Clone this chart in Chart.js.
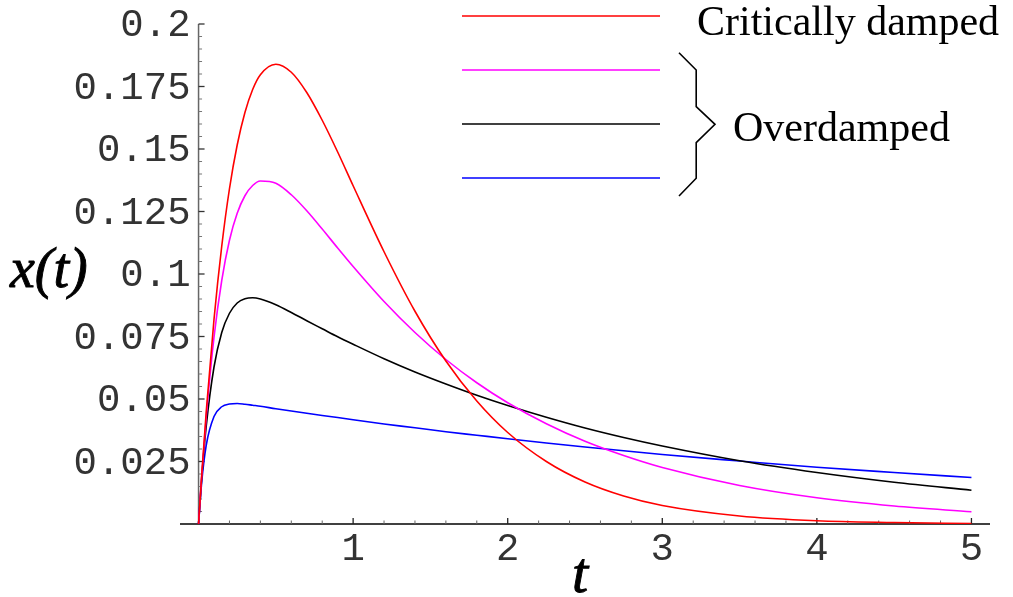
<!DOCTYPE html>
<html><head><meta charset="utf-8">
<script src="https://cdn.jsdelivr.net/npm/chart.js@4.4.1/dist/chart.umd.min.js"></script>
<style>html,body{margin:0;padding:0;background:#fff;overflow:hidden}#wrap{width:1013px;height:597px;position:relative}canvas{display:block}</style>
</head><body><div id="wrap"><canvas id="c" width="1013" height="597"></canvas></div>
<script>
// ---- data ----
const tValues = [0, 0.02, 0.05, 0.1, 0.15, 0.2, 0.25, 0.3, 0.35, 0.4, 0.5, 0.6, 0.7, 0.8, 0.9, 1.0, 1.2, 1.4, 1.6, 1.8, 2.0, 2.25, 2.5, 2.75, 3.0, 3.5, 4.0, 4.5, 5.0];
const criticallyDamped = [0, 0.0192, 0.0452, 0.0819, 0.1111, 0.1341, 0.1516, 0.1646, 0.1738, 0.1797, 0.1839, 0.1807, 0.1726, 0.1615, 0.1488, 0.1353, 0.1089, 0.0851, 0.0652, 0.0492, 0.0366, 0.0250, 0.0168, 0.0112, 0.0074, 0.0032, 0.0013, 0.0006, 0.0002];
const overdampedMagenta = [0, 0.0188, 0.0431, 0.0747, 0.0974, 0.1135, 0.1243, 0.1313, 0.1354, 0.1372, 0.1363, 0.1317, 0.1253, 0.1180, 0.1104, 0.1030, 0.0890, 0.0766, 0.0658, 0.0565, 0.0485, 0.0401, 0.0331, 0.0274, 0.0226, 0.0154, 0.0105, 0.0072, 0.0049];
const overdampedBlack = [0, 0.0181, 0.0393, 0.0628, 0.0766, 0.0843, 0.0884, 0.0901, 0.0905, 0.0900, 0.0877, 0.0846, 0.0813, 0.0781, 0.0749, 0.0719, 0.0661, 0.0608, 0.0560, 0.0515, 0.0474, 0.0427, 0.0384, 0.0346, 0.0312, 0.0253, 0.0206, 0.0167, 0.0135];
const overdampedBlue = [0, 0.0165, 0.0316, 0.0430, 0.0469, 0.0480, 0.0482, 0.0479, 0.0475, 0.0471, 0.0461, 0.0452, 0.0443, 0.0434, 0.0426, 0.0417, 0.0400, 0.0385, 0.0369, 0.0355, 0.0341, 0.0324, 0.0308, 0.0293, 0.0278, 0.0252, 0.0227, 0.0206, 0.0186];
const xTickValues = [1, 2, 3, 4, 5];
const xTickLabels = ['1', '2', '3', '4', '5'];
const yTickValues = [0.025, 0.05, 0.075, 0.1, 0.125, 0.15, 0.175, 0.2];
const yTickLabels = ['0.025', '0.05', '0.075', '0.1', '0.125', '0.15', '0.175', '0.2'];
const seriesColors = ['#ff0000', '#ff00ff', '#000000', '#0000ff'];
const legendTexts = ['Critically damped', 'Overdamped'];
const xTitle = 't';
const yTitle = 'x(t)';

const toPts = arr => arr.map((v, i) => ({x: tValues[i], y: v}));

const axesPlugin = {
  id: 'mmaAxes',
  beforeDatasetsDraw(chart) {
    const ctx = chart.ctx, xs = chart.scales.x, ys = chart.scales.y;
    const x0 = xs.getPixelForValue(0), y0 = ys.getPixelForValue(0);
    ctx.save();
    // y axis
    ctx.strokeStyle = '#666'; ctx.lineWidth = 1.5;
    ctx.beginPath(); ctx.moveTo(x0, ys.getPixelForValue(0.2)); ctx.lineTo(x0, y0); ctx.stroke();
    for (let i = 1; i <= 40; i++) {
      const py = ys.getPixelForValue(i * 0.005);
      const major = i % 5 === 0;
      ctx.strokeStyle = major ? '#333' : '#777';
      ctx.lineWidth = major ? 1.3 : 1;
      ctx.beginPath(); ctx.moveTo(x0, py); ctx.lineTo(x0 + (major ? 6 : 3.5), py); ctx.stroke();
    }
    // x axis
    ctx.strokeStyle = '#000'; ctx.lineWidth = 1.6;
    ctx.beginPath(); ctx.moveTo(chart.chartArea.left, y0); ctx.lineTo(chart.chartArea.right, y0); ctx.stroke();
    for (let i = 1; i <= 25; i++) {
      const px = xs.getPixelForValue(i * 0.2);
      const major = i % 5 === 0;
      ctx.strokeStyle = major ? '#222' : '#666';
      ctx.lineWidth = major ? 1.3 : 1;
      ctx.beginPath(); ctx.moveTo(px, y0); ctx.lineTo(px, y0 - (major ? 6 : 3.5)); ctx.stroke();
    }
    ctx.restore();
  },
  afterDraw(chart) {
    const ctx = chart.ctx, xs = chart.scales.x, ys = chart.scales.y;
    const x0 = xs.getPixelForValue(0), y0 = ys.getPixelForValue(0);
    ctx.save();
    ctx.fillStyle = '#333';
    ctx.font = "39px 'Liberation Mono', 'DejaVu Sans Mono', monospace";
    ctx.textAlign = 'right'; ctx.textBaseline = 'alphabetic';
    yTickValues.forEach((v, i) => ctx.fillText(yTickLabels[i], x0 - 8, ys.getPixelForValue(v) + 12));
    ctx.textAlign = 'center';
    xTickValues.forEach((v, i) => ctx.fillText(xTickLabels[i], xs.getPixelForValue(v), y0 + 36));
    // axis titles
    ctx.fillStyle = '#000'; ctx.strokeStyle = '#000'; ctx.lineWidth = 0.9;
    ctx.textAlign = 'left';
    ctx.font = "italic 56px 'Liberation Serif', 'Times New Roman', serif";
    ctx.fillText(yTitle, 10, 287);
    ctx.strokeText(yTitle, 10, 287);
    ctx.font = "italic 58px 'Liberation Serif', 'Times New Roman', serif";
    ctx.textAlign = 'center';
    ctx.fillText(xTitle, 580, 592);
    ctx.strokeText(xTitle, 580, 592);
    // legend
    const rows = [16, 70, 124, 178];
    rows.forEach((ry, i) => {
      ctx.strokeStyle = seriesColors[i]; ctx.lineWidth = 1.5;
      ctx.beginPath(); ctx.moveTo(462, ry); ctx.lineTo(660, ry); ctx.stroke();
    });
    ctx.strokeStyle = '#000'; ctx.lineWidth = 1.6;
    ctx.beginPath();
    ctx.moveTo(679, 52.7); ctx.lineTo(696.2, 70); ctx.lineTo(696.2, 106.7); ctx.lineTo(715, 124.3);
    ctx.lineTo(696.2, 142.7); ctx.lineTo(696.2, 178.3); ctx.lineTo(679, 196);
    ctx.stroke();
    ctx.fillStyle = '#000'; ctx.textAlign = 'left';
    ctx.font = "42px 'Liberation Serif', 'Times New Roman', serif";
    ctx.fillText(legendTexts[0], 697, 35);
    ctx.fillText(legendTexts[1], 733, 141);
    ctx.restore();
  }
};

const lineDs = (data, color) => ({
  data: toPts(data), borderColor: color, borderWidth: 1.6, pointRadius: 0,
  fill: false, cubicInterpolationMode: 'monotone'
});

new Chart(document.getElementById('c'), {
  type: 'line',
  data: {
    datasets: [
      lineDs(criticallyDamped, seriesColors[0]),
      lineDs(overdampedMagenta, seriesColors[1]),
      lineDs(overdampedBlack, seriesColors[2]),
      lineDs(overdampedBlue, seriesColors[3])
    ]
  },
  options: {
    responsive: false, animation: false, devicePixelRatio: 1,
    layout: {padding: {left: 180, right: 23, top: 24, bottom: 73}},
    plugins: {legend: {display: false}, tooltip: {enabled: false}},
    scales: {
      x: {type: 'linear', min: -0.12, max: 5.12, display: false},
      y: {type: 'linear', min: 0, max: 0.2, display: false}
    }
  },
  plugins: [axesPlugin]
});
</script>
</body></html>
